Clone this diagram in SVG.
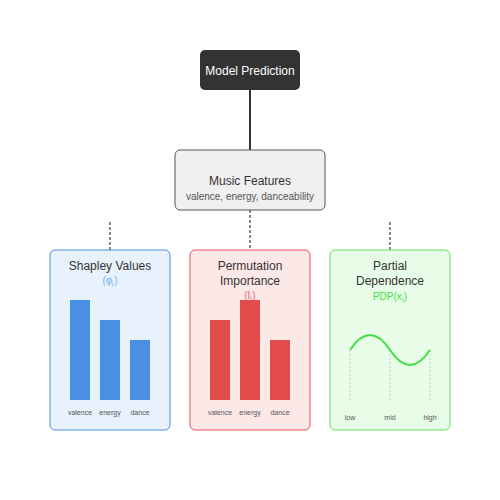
<svg xmlns="http://www.w3.org/2000/svg" width="500" height="500" viewBox="0 0 500 500">
<style>
text{font-family:"Liberation Sans",Arial,sans-serif;text-anchor:middle}
.t{font-size:12px;fill:#333}
.s{font-size:10px}
.l{font-size:7px;fill:#555}
.dash{stroke:#888;stroke-width:2;stroke-dasharray:3,2;fill:none}
.guide{stroke:#ccc;stroke-width:1;stroke-dasharray:2,2}
</style>
<rect width="500" height="500" fill="#fff"/>
<g id="connectors">
<line x1="250" y1="90" x2="250" y2="150" stroke="#333" stroke-width="2"/>
<line class="dash" x1="250" y1="210" x2="250" y2="250"/>
<line class="dash" x1="110" y1="222" x2="110" y2="250"/>
<line class="dash" x1="390" y1="222" x2="390" y2="250"/>
</g>
<g id="model-prediction">
<rect x="200" y="50" width="100" height="40" rx="5" fill="#333"/>
<text x="250" y="75" font-size="12" fill="#fff">Model Prediction</text>
</g>
<g id="music-features">
<rect x="175" y="150" width="150" height="60" rx="5" fill="#f0f0f0" stroke="#555" stroke-width="1"/>
<text class="t" x="250" y="185">Music Features</text>
<text class="s" x="250" y="200" fill="#555">valence, energy, danceability</text>
</g>
<g id="shapley">
<rect x="50" y="250" width="120" height="180" rx="5" fill="#e8f2fd" stroke="#4a90e2" stroke-width="1"/>
<text class="t" x="110" y="270">Shapley Values</text>
<text class="s" x="110" y="284" fill="#7ab0ec">(φⱼ)</text>
<rect x="70" y="300" width="20" height="100" fill="#4a90e2"/>
<rect x="100" y="320" width="20" height="80" fill="#4a90e2"/>
<rect x="130" y="340" width="20" height="60" fill="#4a90e2"/>
<text class="l" x="80" y="415">valence</text>
<text class="l" x="110" y="415">energy</text>
<text class="l" x="140" y="415">dance</text>
</g>
<g id="permutation">
<rect x="190" y="250" width="120" height="180" rx="5" fill="#fde8e8" stroke="#e05555" stroke-width="1"/>
<text class="t" x="250" y="270">Permutation</text>
<text class="t" x="250" y="285">Importance</text>
<text class="s" x="250" y="299" fill="#e86a6a">(Iⱼ)</text>
<rect x="210" y="320" width="20" height="80" fill="#e34c4c"/>
<rect x="240" y="300" width="20" height="100" fill="#e34c4c"/>
<rect x="270" y="340" width="20" height="60" fill="#e34c4c"/>
<text class="l" x="220" y="415">valence</text>
<text class="l" x="250" y="415">energy</text>
<text class="l" x="280" y="415">dance</text>
</g>
<g id="partial-dependence">
<rect x="330" y="250" width="120" height="180" rx="5" fill="#e8fde8" stroke="#66dd66" stroke-width="1"/>
<text class="t" x="390" y="270">Partial</text>
<text class="t" x="390" y="285">Dependence</text>
<text class="s" x="390" y="300" fill="#44dd44">PDP(xⱼ)</text>
<line class="guide" x1="350" y1="350" x2="350" y2="400"/>
<line class="guide" x1="390" y1="350" x2="390" y2="400"/>
<line class="guide" x1="430" y1="350" x2="430" y2="400"/>
<path d="M350,350 Q370,320 390,350 T430,350" fill="none" stroke="#44dd44" stroke-width="2"/>
<text class="l" x="350" y="420">low</text>
<text class="l" x="390" y="420">mid</text>
<text class="l" x="430" y="420">high</text>
</g>
</svg>
